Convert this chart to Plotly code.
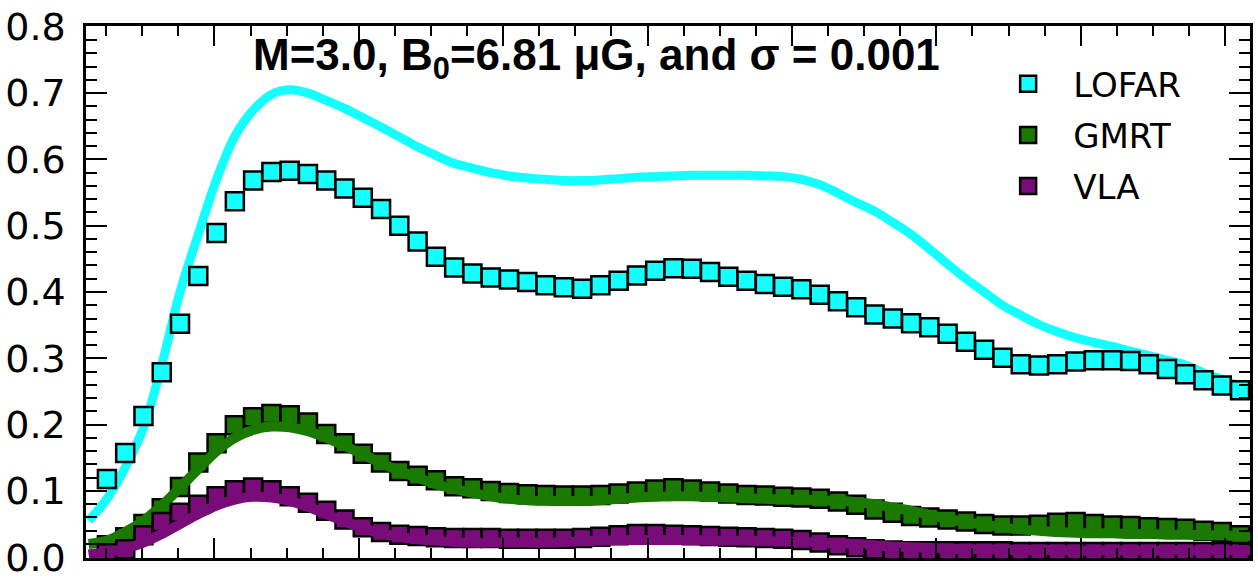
import plotly.graph_objects as go

# sample index along the profile (markers)
sample_idx = list(range(63))

lofar_pts = [0.118, 0.157, 0.213, 0.279, 0.352, 0.424, 0.489, 0.537, 0.568, 0.581,
             0.583, 0.578, 0.568, 0.556, 0.542, 0.525, 0.500, 0.476, 0.453, 0.437,
             0.428, 0.422, 0.419, 0.415, 0.410, 0.407, 0.405, 0.410, 0.417, 0.425,
             0.432, 0.436, 0.435, 0.430, 0.423, 0.417, 0.412, 0.408, 0.404, 0.396,
             0.386, 0.377, 0.366, 0.360, 0.353, 0.347, 0.337, 0.325, 0.313, 0.301,
             0.291, 0.289, 0.291, 0.295, 0.297, 0.297, 0.296, 0.291, 0.284, 0.276,
             0.267, 0.259, 0.252]

gmrt_pts = [0.018, 0.030, 0.050, 0.074, 0.106, 0.143, 0.172, 0.199, 0.211, 0.216,
            0.214, 0.203, 0.186, 0.172, 0.156, 0.143, 0.130, 0.123, 0.116, 0.107,
            0.104, 0.100, 0.097, 0.095, 0.094, 0.093, 0.093, 0.094, 0.096, 0.099,
            0.102, 0.104, 0.102, 0.099, 0.096, 0.094, 0.093, 0.091, 0.090, 0.088,
            0.084, 0.079, 0.072, 0.067, 0.062, 0.060, 0.057, 0.054, 0.050, 0.048,
            0.048, 0.049, 0.052, 0.053, 0.050, 0.048, 0.047, 0.045, 0.044, 0.043,
            0.040, 0.038, 0.033]

vla_pts = [0.006, 0.012, 0.033, 0.053, 0.067, 0.079, 0.092, 0.101, 0.105, 0.101,
           0.092, 0.082, 0.070, 0.057, 0.045, 0.038, 0.034, 0.032, 0.030, 0.029,
           0.029, 0.029, 0.028, 0.028, 0.028, 0.028, 0.029, 0.031, 0.033, 0.035,
           0.035, 0.034, 0.033, 0.032, 0.031, 0.030, 0.029, 0.028, 0.026, 0.022,
           0.018, 0.015, 0.012, 0.010, 0.009, 0.009, 0.009, 0.009, 0.009, 0.009,
           0.008, 0.008, 0.008, 0.008, 0.008, 0.008, 0.008, 0.008, 0.008, 0.008,
           0.008, 0.008, 0.008]

# model curves (thick lines), sampled on an extended index grid
curve_idx = list(range(-1, 64))

lofar_curve = [0.055, 0.088, 0.135, 0.195, 0.290, 0.400, 0.487, 0.570, 0.635, 0.674,
               0.698, 0.705, 0.700, 0.689, 0.677, 0.663, 0.649, 0.634, 0.619, 0.606,
               0.594, 0.587, 0.580, 0.575, 0.572, 0.570, 0.568, 0.568, 0.569, 0.571,
               0.573, 0.574, 0.575, 0.576, 0.576, 0.576, 0.576, 0.575, 0.574, 0.570,
               0.562, 0.549, 0.535, 0.522, 0.505, 0.487, 0.465, 0.442, 0.420, 0.400,
               0.380, 0.365, 0.351, 0.340, 0.331, 0.324, 0.318, 0.311, 0.304, 0.297,
               0.290, 0.278, 0.268, 0.258, 0.250]

gmrt_curve = [0.020, 0.025, 0.038, 0.055, 0.078, 0.105, 0.133, 0.160, 0.180, 0.192,
              0.197, 0.196, 0.190, 0.180, 0.168, 0.155, 0.142, 0.130, 0.120, 0.110,
              0.103, 0.097, 0.092, 0.088, 0.086, 0.085, 0.085, 0.085, 0.086, 0.088,
              0.090, 0.091, 0.092, 0.092, 0.091, 0.090, 0.089, 0.088, 0.087, 0.087,
              0.086, 0.085, 0.083, 0.080, 0.075, 0.070, 0.064, 0.058, 0.053, 0.049,
              0.045, 0.042, 0.040, 0.038, 0.037, 0.036, 0.036, 0.035, 0.035, 0.034,
              0.034, 0.033, 0.033, 0.032, 0.032]

vla_curve = [0.004, 0.008, 0.013, 0.022, 0.035, 0.050, 0.065, 0.078, 0.087, 0.091,
             0.090, 0.085, 0.076, 0.065, 0.054, 0.044, 0.036, 0.031, 0.027, 0.025,
             0.023, 0.022, 0.022, 0.022, 0.022, 0.022, 0.023, 0.024, 0.025, 0.026,
             0.026, 0.026, 0.026, 0.026, 0.025, 0.025, 0.025, 0.024, 0.024, 0.023,
             0.022, 0.021, 0.020, 0.018, 0.016, 0.015, 0.014, 0.013, 0.012, 0.012,
             0.011, 0.011, 0.011, 0.011, 0.010, 0.010, 0.010, 0.010, 0.010, 0.010,
             0.010, 0.010, 0.010, 0.010, 0.010]

y_tickvals = [0.0, 0.1, 0.2, 0.3, 0.4, 0.5, 0.6, 0.7, 0.8]
y_ticktext = ["0.0", "0.1", "0.2", "0.3", "0.4", "0.5", "0.6", "0.7", "0.8"]

names = ["LOFAR", "GMRT", "VLA"]
colors = ["#14ffff", "#1a7a00", "#7a0c7a"]

title_text = "M=3.0, B<sub>0</sub>=6.81 μG, and σ = 0.001"

fig = go.Figure()

# LOFAR: line under markers
fig.add_trace(go.Scatter(x=curve_idx, y=lofar_curve, mode="lines", line=dict(color=colors[0], width=9, shape="spline"),
                         showlegend=False, hoverinfo="skip"))
fig.add_trace(go.Scatter(x=sample_idx, y=lofar_pts, mode="markers", name=names[0], legendgroup="a",
                         marker=dict(symbol="square", size=18, color=colors[0], line=dict(color="black", width=2.5))))
# GMRT: markers then line
fig.add_trace(go.Scatter(x=sample_idx, y=gmrt_pts, mode="markers", name=names[1], legendgroup="b",
                         marker=dict(symbol="square", size=18, color=colors[1], line=dict(color="black", width=2.5))))
fig.add_trace(go.Scatter(x=curve_idx, y=gmrt_curve, mode="lines", line=dict(color=colors[1], width=10, shape="spline"),
                         showlegend=False, hoverinfo="skip"))
# VLA
fig.add_trace(go.Scatter(x=sample_idx, y=vla_pts, mode="markers", name=names[2], legendgroup="c",
                         marker=dict(symbol="square", size=18, color=colors[2], line=dict(color="black", width=2.5))))
fig.add_trace(go.Scatter(x=curve_idx, y=vla_curve, mode="lines", line=dict(color=colors[2], width=10, shape="spline"),
                         showlegend=False, hoverinfo="skip"))

x_step = 18.355
x_lo = (84 - 105) / x_step
x_hi = (1253 - 105) / x_step
major0 = (213 - 105) / x_step
major_dt = 145 / x_step

fig.update_xaxes(range=[x_lo, x_hi], showgrid=False, zeroline=False,
                 showline=True, linecolor="black", linewidth=2.5, mirror="ticks",
                 ticks="inside", ticklen=20, tickwidth=2, tickcolor="black",
                 tickmode="linear", tick0=major0, dtick=major_dt, showticklabels=False,
                 minor=dict(ticks="inside", ticklen=10, tickwidth=2, tickcolor="black",
                            tick0=major0, dtick=major_dt / 4, showgrid=False))
fig.update_yaxes(range=[-0.0012, 0.8012], showgrid=False, zeroline=False,
                 showline=True, linecolor="black", linewidth=2.5, mirror="ticks",
                 ticks="inside", ticklen=21, tickwidth=2, tickcolor="black",
                 tickmode="array", tickvals=y_tickvals, ticktext=y_ticktext,
                 ticklabelstandoff=10, ticklabeloverflow="allow",
                 tickfont=dict(family="DejaVu Sans", size=38, color="black"),
                 minor=dict(ticks="inside", ticklen=11, tickwidth=2, tickcolor="black",
                            tickmode="linear", tick0=0, dtick=0.02, showgrid=False))

fig.add_annotation(text=title_text, xref="paper", yref="paper", x=(597 - 84) / 1169, y=(566 - 51) / 548,
                   xanchor="center", yanchor="middle", showarrow=False,
                   font=dict(family="Liberation Sans, Arial, sans-serif", size=44, color="black", weight="bold"))

fig.update_layout(
    width=1258, height=584,
    margin=dict(l=84, r=5, t=18, b=18),
    plot_bgcolor="white", paper_bgcolor="white",
    legend=dict(x=(985 - 84) / 1169, y=(566 - 48) / 548, xanchor="left", yanchor="top",
                bgcolor="rgba(0,0,0,0)", borderwidth=0,
                font=dict(family="DejaVu Sans", size=34, color="black"),
                tracegroupgap=4, traceorder="grouped", itemwidth=80),
)

fig.write_html("out.html")
